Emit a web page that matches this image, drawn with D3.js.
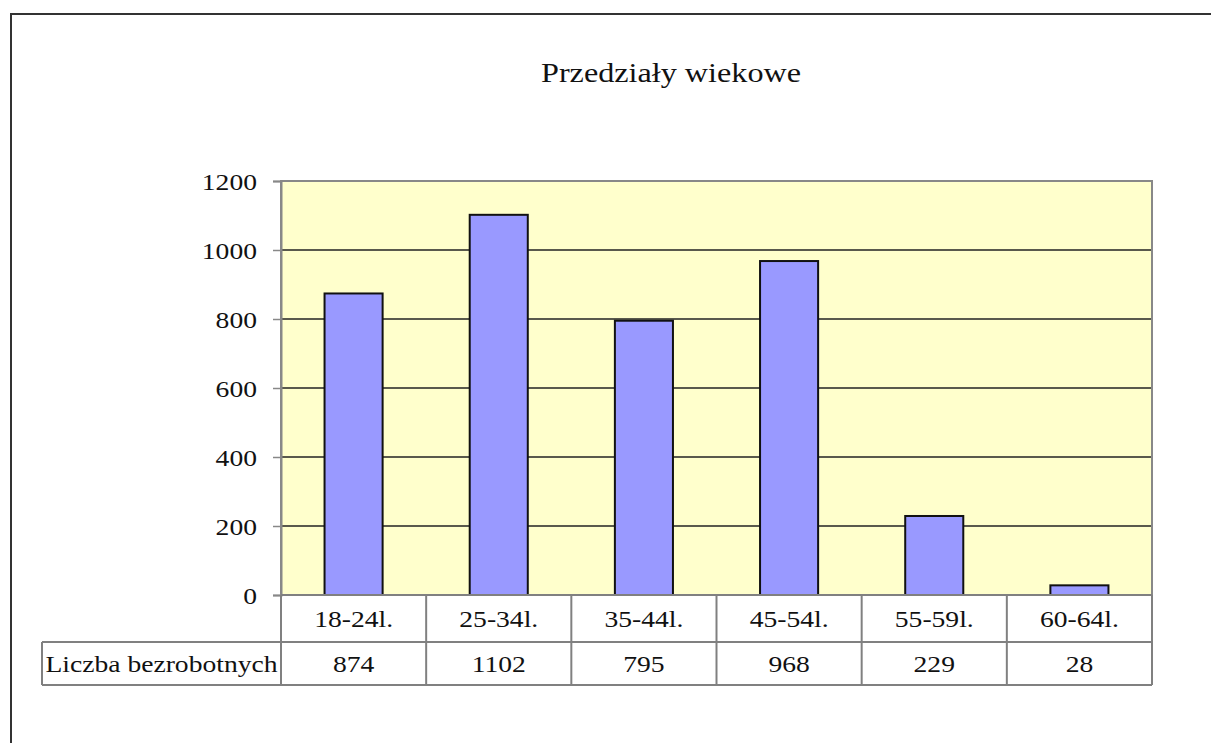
<!DOCTYPE html>
<html><head><meta charset="utf-8">
<script src="https://cdn.jsdelivr.net/npm/d3@7"></script>
<style>body{margin:0;background:#fff}svg{display:block}</style>
</head><body>
<script>
const title = "Przedziały wiekowe";
const categories = ["18-24l.", "25-34l.", "35-44l.", "45-54l.", "55-59l.", "60-64l."];
const seriesName = "Liczba bezrobotnych";
const values = [874, 1102, 795, 968, 229, 28];
const yTicks = [0, 200, 400, 600, 800, 1000, 1200];

(function () {
const W = 1211, H = 743;
const svg = d3.select("body").append("svg").attr("width", W).attr("height", H);
const FONT = "'Liberation Serif','Times New Roman',serif";
const SX = 1.2;

const pL = 281, pR = 1152, pT = 181, pB = 595;
const rowH1 = 47, rowH2 = 43;
const x = d3.scaleBand().domain(categories).range([pL, pR]).paddingInner(0).paddingOuter(0);
const y = d3.scaleLinear().domain([0, 1200]).range([pB, pT]);

function txt(g, tx, ty, s, size, anchor, sx) {
  return g.append("text").attr("transform", `translate(${tx},${ty}) scale(${sx || SX},1)`)
    .attr("text-anchor", anchor || "middle").attr("dominant-baseline", "central")
    .style("font-family", FONT).style("font-size", size + "px").attr("fill", "#111").text(s);
}

// outer border
svg.append("rect").attr("x", 11).attr("y", 14).attr("width", 1400).attr("height", 900)
  .attr("fill", "#fff").attr("stroke", "#333").attr("stroke-width", 2);

// title
txt(svg, 671, 73, title, 28, "middle", 1.15);

// plot background
svg.append("rect").attr("x", pL).attr("y", pT).attr("width", pR - pL).attr("height", pB - pT)
  .attr("fill", "#FFFFCC");

// gridlines
svg.append("g").selectAll("line").data(yTicks.filter(d => d > 0 && d < 1200)).join("line")
  .attr("x1", pL).attr("x2", pR).attr("y1", d => y(d)).attr("y2", d => y(d))
  .attr("stroke", "#222").attr("stroke-width", 1.3);

// plot border
svg.append("path").attr("d", `M${pL},${pB}V${pT}H${pR}V${pB}`)
  .attr("fill", "none").attr("stroke", "#888").attr("stroke-width", 2);

// y axis
const yAxis = d3.axisLeft(y).tickValues(yTicks).tickFormat(d3.format("d")).tickSize(8).tickPadding(16);
const ga = svg.append("g").attr("transform", `translate(${pL},0)`).call(yAxis);
ga.select(".domain").attr("stroke", "#888").attr("stroke-width", 2);
ga.selectAll(".tick line").attr("stroke", "#888").attr("stroke-width", 1.5);
ga.selectAll(".tick text").each(function () {
  d3.select(this).attr("x", null).attr("dy", null)
    .attr("transform", `translate(-24,0) scale(${SX},1)`)
    .attr("dominant-baseline", "central")
    .style("font-family", FONT).style("font-size", "23px").attr("fill", "#111");
});

// bars
const bw = x.bandwidth() * 0.4;
svg.append("g").selectAll("rect").data(values).join("rect")
  .attr("x", (d, i) => x(categories[i]) + x.bandwidth() / 2 - bw / 2)
  .attr("y", d => y(d)).attr("width", bw).attr("height", d => y(0) - y(d))
  .attr("fill", "#9999FF").attr("stroke", "#111").attr("stroke-width", 2);

// data table
const tg = svg.append("g");
const r1 = pB, r2 = pB + rowH1, r3 = pB + rowH1 + rowH2;
const lc = "#808080";
const lw = 2;
tg.append("line").attr("x1", pL).attr("x2", pR).attr("y1", r1).attr("y2", r1).attr("stroke", lc).attr("stroke-width", lw);
tg.append("line").attr("x1", 42).attr("x2", pR).attr("y1", r2).attr("y2", r2).attr("stroke", lc).attr("stroke-width", lw);
tg.append("line").attr("x1", 42).attr("x2", pR).attr("y1", r3).attr("y2", r3).attr("stroke", lc).attr("stroke-width", lw);
tg.append("line").attr("x1", 42).attr("x2", 42).attr("y1", r2).attr("y2", r3).attr("stroke", lc).attr("stroke-width", lw);
const bounds = categories.map(c => x(c)).concat([pR]);
tg.selectAll("line.v").data(bounds).join("line").attr("class", "v")
  .attr("x1", d => d).attr("x2", d => d).attr("y1", r1).attr("y2", r3)
  .attr("stroke", lc).attr("stroke-width", lw);
categories.forEach((c, i) => {
  txt(tg, x(c) + x.bandwidth() / 2, (r1 + r2) / 2, c, 23);
  txt(tg, x(c) + x.bandwidth() / 2, (r2 + r3) / 2, String(values[i]), 23);
});
txt(tg, (42 + pL) / 2, (r2 + r3) / 2, seriesName, 23);
})();
</script>
</body></html>
